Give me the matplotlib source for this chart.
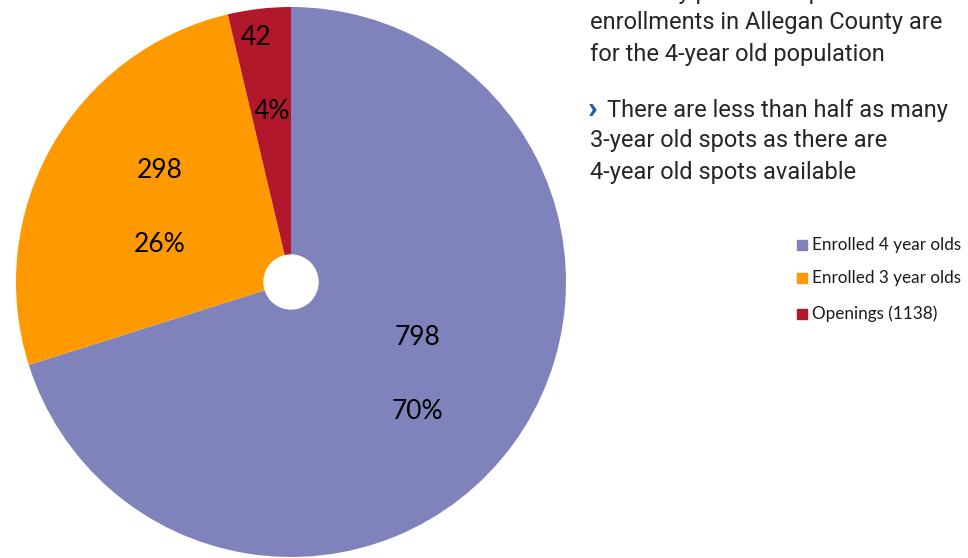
import numpy as np
import matplotlib.pyplot as plt
from matplotlib.patches import Circle

# enrollment breakdown
categories = ["Enrolled 4 year olds", "Enrolled 3 year olds", "Openings (1138)"]
counts = [798, 298, 42]
colors = ["#7f82bb", "#ff9900", "#b2182b"]

notes_lines = [
    ("›", "Seventy percent of preschool"),
    ("", "enrollments in Allegan County are"),
    ("", "for the 4-year old population"),
    (None, None),
    ("›", "There are less than half as many"),
    ("", "3-year old spots as there are"),
    ("", "4-year old spots available"),
]

W, H = 968, 558
fig = plt.figure(figsize=(W / 100, H / 100), dpi=100)

# pie centred at (291, 282) px with a 275 px radius
cx, cy, r = 291, 282, 275
ax = fig.add_axes([(cx - r) / W, (H - cy - r) / H, 2 * r / W, 2 * r / H])

wedges, _ = ax.pie(counts, colors=colors, startangle=90, counterclock=False,
                   radius=1, wedgeprops=dict(linewidth=0))
ax.add_patch(Circle((0, 0), 27 / r, color="white", zorder=5))
ax.set_xlim(-1, 1)
ax.set_ylim(-1, 1)
ax.set_aspect("equal")
ax.axis("off")

total = sum(counts)
label_r = [0.57, 0.55, 0.76]
gap = 37 / r
for w, n, lr in zip(wedges, counts, label_r):
    mid = np.deg2rad((w.theta1 + w.theta2) / 2)
    x, y = lr * np.cos(mid), lr * np.sin(mid)
    pct = f"{round(100 * n / total)}%"
    if n < 60:
        # thin slice: nudge the two lines apart sideways
        ax.text(x - 0.04, y + gap, str(n), ha="center", va="center", fontsize=19, family="Lato")
        ax.text(x + 0.02, y - gap, pct, ha="center", va="center", fontsize=19, family="Lato")
    else:
        ax.text(x, y + gap, str(n), ha="center", va="center", fontsize=19, family="Lato")
        ax.text(x, y - gap, pct, ha="center", va="center", fontsize=19, family="Lato")

# side notes
y0 = -8
step = 31
ypx = y0
for mark, line in notes_lines:
    if mark is None:
        ypx += 25
        continue
    if mark:
        fig.text(588 / W, 1 - (ypx - 1) / H, mark, color="#1b5ca8", fontsize=23,
                 fontweight="heavy", family="Roboto", va="center", ha="left")
        fig.text(607 / W, 1 - ypx / H, line, color="#262626", fontsize=17,
                 family="Roboto", va="center", ha="left")
    else:
        fig.text(590 / W, 1 - ypx / H, line, color="#262626", fontsize=17,
                 family="Roboto", va="center", ha="left")
    ypx += step

# legend
leg_y = [245, 278, 314]
for name, c, ly in zip(categories, colors, leg_y):
    fig.patches.append(plt.Rectangle((797 / W, 1 - (ly + 5) / H), 10 / W, 10 / H,
                                     color=c, transform=fig.transFigure, figure=fig))
    fig.text(812 / W, 1 - ly / H, name, fontsize=12.3, family="Lato",
             va="center", ha="left", color="#1a1a1a")

fig.savefig("out.png", dpi=100)
